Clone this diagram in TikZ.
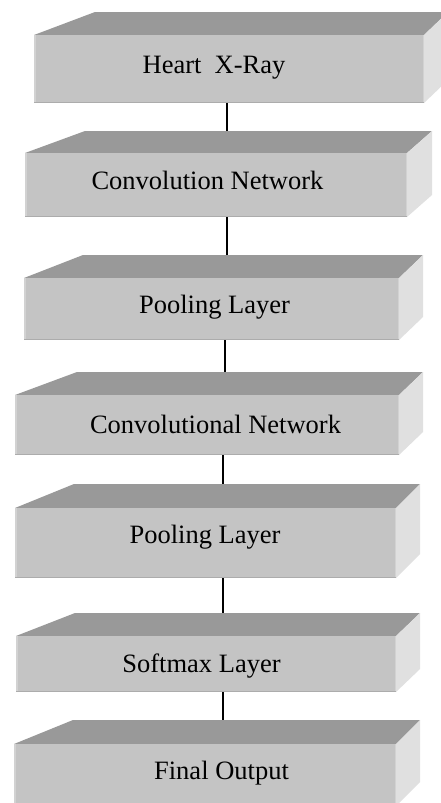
\documentclass[tikz,border=0pt]{standalone}
\usepackage{fontspec}
\setmainfont{Liberation Serif}
\definecolor{topface}{HTML}{999999}
\definecolor{frontface}{HTML}{C4C4C4}
\definecolor{sideface}{HTML}{E0E0E0}
\definecolor{edgedark}{HTML}{ACACAC}
\definecolor{edgelight}{HTML}{D2D2D2}
\tikzset{
  lbl/.style={font=\fontsize{26.5}{30}\selectfont, text=black, inner sep=0pt, anchor=base},
  conn/.style={draw=black, line width=2pt},
}
% #1 FL, #2 FR, #3 BL, #4 BR, #5 yBack, #6 yTop, #7 yBottom
\newcommand\slabthreed[7]{%
  \fill[topface] (#3,#5) -- (#4,#5) -- (#2,#6) -- (#1,#6) -- cycle;
  \fill[sideface] (#2,#6) -- (#4,#5) -- (#4,{#7-(#6-#5)}) -- (#2,#7) -- cycle;
  \fill[frontface] (#1,#6) rectangle (#2,#7);
  \draw[edgelight, line width=1.5pt] (#1+0.75,#6) -- (#1+0.75,#7);
  \draw[edgelight, line width=1.5pt] (#2-0.75,#6) -- (#2-0.75,#7);
  \draw[edgedark, line width=1.5pt] (#1,#7-0.75) -- (#2,#7-0.75);
}
\begin{document}
\begin{tikzpicture}[x=1pt,y=-1pt]
\useasboundingbox (0,0) rectangle (440,803);
\fill[white] (0,0) rectangle (440,803);

% connectors (drawn first; the top faces cover their ends)
\coordinate (s1) at (227,103); \coordinate (e1) at (227,132);
\coordinate (s2) at (227,217); \coordinate (e2) at (227,256);
\coordinate (s3) at (225,340); \coordinate (e3) at (225,373);
\coordinate (s4) at (223,455); \coordinate (e4) at (223,485);
\coordinate (s5) at (223,578); \coordinate (e5) at (223,614);
\coordinate (s6) at (223,692); \coordinate (e6) at (223,721);
\draw[conn] (s1) -- (e1);
\draw[conn] (s2) -- (e2);
\draw[conn] (s3) -- (e3);
\draw[conn] (s4) -- (e4);
\draw[conn] (s5) -- (e5);
\draw[conn] (s6) -- (e6);

\slabthreed{34}{424}{95}{448}{12}{35}{103}
\slabthreed{25}{407}{85}{432}{131}{153}{217}
\slabthreed{24}{399}{83}{423}{255}{278}{340}
\slabthreed{15}{399}{77}{423}{372}{395}{455}
\slabthreed{15}{396}{74}{420}{484}{508}{578}
\slabthreed{16}{396}{75}{420}{613}{636}{692}
\slabthreed{14}{396}{73}{420}{720}{744}{806}

\node[lbl] (b1) at (214,73)  {Heart\ \ X-Ray};
\node[lbl] (b2) at (207.5,189) {Convolution Network};
\node[lbl] (b3) at (214.5,313) {Pooling Layer};
\node[lbl] (b4) at (215.5,433) {Convolutional Network};
\node[lbl] (b5) at (205,543) {Pooling Layer};
\node[lbl] (b6) at (201.5,672) {Softmax Layer};
\node[lbl] (b7) at (221.5,779) {Final Output};
\end{tikzpicture}
\end{document}
